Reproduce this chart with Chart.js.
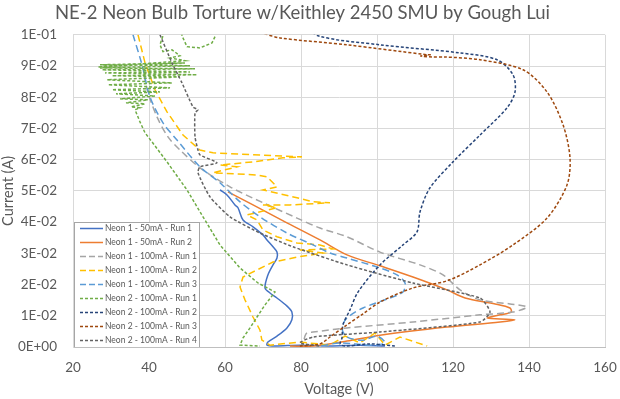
<!DOCTYPE html>
<html>
<head>
<meta charset="utf-8">
<title>NE-2 Neon Bulb Torture</title>
<script src="https://cdn.jsdelivr.net/npm/chart.js@4.4.1/dist/chart.umd.min.js"></script>
<style>
  html, body { margin: 0; padding: 0; background: #fff; }
  #wrap { width: 620px; height: 399px; }
</style>
</head>
<body>
<div id="wrap"><canvas id="chart" width="620" height="399"></canvas></div>
<script>
// series values: [voltage (V), current (A)]
const neon1_50mA_run1 = [
  [58.68, 0.0503], [60.53, 0.0487], [62.63, 0.0455], [63.42, 0.0446], [64.74, 0.0407],
  [67.37, 0.0385], [70.0, 0.0359], [71.05, 0.0343], [72.63, 0.0321], [73.68, 0.0304],
  [73.68, 0.0285], [72.63, 0.0263], [71.3, 0.0231], [70.53, 0.0189], [71.84, 0.0173],
  [73.68, 0.0157], [76.32, 0.0131], [77.6, 0.0112], [77.6, 0.0087], [76.3, 0.0061],
  [73.7, 0.0035], [71.3, 0.0016], [71.05, 0.0006], [73.2, 0.0003], [79.7, 0.0006],
  [87.6, 0.0003], [95.5, 0.0006], [102.1, 0.0003]
];
const neon1_50mA_run2 = [
  [60.79, 0.0497], [67.37, 0.0455], [75.8, 0.0401], [85.0, 0.0343], [92.11, 0.0295],
  [100.79, 0.0260], [109.47, 0.0224], [118.42, 0.0183], [123.2, 0.0157], [131.1, 0.0138],
  [135.0, 0.0125], [135.3, 0.0112], [132.4, 0.0103], [128.95, 0.0093], [132.4, 0.0090],
  [136.32, 0.0087], [132.4, 0.0080], [118.42, 0.0064], [100.79, 0.0038], [92.11, 0.0019],
  [83.16, 0.0003], [77.1, 0.0003]
];
const neon1_100mA_run1 = [
  [38.68, 0.0872], [39.74, 0.0814], [42.11, 0.0737], [45.0, 0.0673], [48.16, 0.0631],
  [53.42, 0.0574], [61.32, 0.0513], [70.0, 0.0462], [78.95, 0.0413], [85.0, 0.0381],
  [92.11, 0.0353], [100.79, 0.0304], [111.32, 0.0263], [117.37, 0.0231], [121.84, 0.0183],
  [127.11, 0.0151], [135.0, 0.0138], [139.47, 0.0128], [135.79, 0.0112], [127.11, 0.0103],
  [109.47, 0.0080], [92.11, 0.0061], [83.16, 0.0048], [81.58, 0.0045], [81.05, 0.0035],
  [80.5, 0.0006]
];
const neon1_100mA_run2 = [
  [37.11, 0.1000], [38.95, 0.0910], [41.58, 0.0824], [44.74, 0.0753], [48.95, 0.0679],
  [53.42, 0.0631], [56.84, 0.0622], [69.21, 0.0615], [80.26, 0.0609], [75.26, 0.0606],
  [67.37, 0.0593], [58.68, 0.0583], [63.16, 0.0577], [56.84, 0.0558], [68.42, 0.0551],
  [71.05, 0.0545], [73.68, 0.0513], [70.0, 0.0503], [78.95, 0.0478], [83.16, 0.0465],
  [87.63, 0.0462], [77.11, 0.0455], [70.0, 0.0455], [73.68, 0.0446], [65.79, 0.0423],
  [68.42, 0.0407], [70.0, 0.0375], [73.68, 0.0353], [78.95, 0.0333], [85.0, 0.0327],
  [88.4, 0.0314], [79.7, 0.0311], [85.79, 0.0301], [78.95, 0.0288], [72.63, 0.0272],
  [68.42, 0.0247], [64.74, 0.0224], [63.95, 0.0192], [65.26, 0.0151], [67.37, 0.0096],
  [69.21, 0.0054], [69.7, 0.0022], [71.84, 0.0006], [79.7, 0.0016], [87.6, 0.0006],
  [91.6, 0.0035], [95.5, 0.0013], [99.5, 0.0045], [102.1, 0.0006], [106.05, 0.0032],
  [113.2, 0.0003]
];
const neon1_100mA_run3 = [
  [35.79, 0.1000], [38.16, 0.0904], [40.26, 0.0801], [43.68, 0.0718], [47.37, 0.0663],
  [53.42, 0.0577], [58.68, 0.0526], [63.95, 0.0465], [69.21, 0.0417], [76.32, 0.0365],
  [83.16, 0.0327], [87.63, 0.0301], [92.11, 0.0285], [100.79, 0.0253], [105.26, 0.0231],
  [107.37, 0.0205], [106.84, 0.0176], [103.42, 0.0157], [96.32, 0.0125], [92.11, 0.0093],
  [90.79, 0.0061], [92.11, 0.0032], [96.32, 0.0022], [100.0, 0.0035], [102.1, 0.0013],
  [98.2, 0.0006], [90.3, 0.0013], [85.0, 0.0003]
];
const neon2_100mA_run1 = [
  [57.37, 0.0994], [56.58, 0.0974], [53.42, 0.0958], [50.0, 0.0962], [48.68, 0.0997],
  [48.68, 0.1054], [43.68, 0.1054], [43.68, 0.0997], [42.89, 0.0968], [43.68, 0.0946],
  [46.05, 0.0952], [48.16, 0.0933], [45.53, 0.0926], [49.47, 0.0917],
  [26.58, 0.0897], [49.47, 0.0910], [27.11, 0.0904], [50.79, 0.0901], [27.11, 0.0894],
  [52.11, 0.0891], [27.63, 0.0888], [50.79, 0.0881], [28.42, 0.0878], [52.63, 0.0872],
  [30.26, 0.0869], [48.16, 0.0865],
  [28.95, 0.0856], [46.05, 0.0846], [29.21, 0.0840], [45.53, 0.0830], [30.26, 0.0824],
  [42.89, 0.0817], [31.32, 0.0811], [41.58, 0.0804], [32.37, 0.0795], [39.74, 0.0792],
  [33.95, 0.0782], [38.95, 0.0779], [35.26, 0.0769], [37.63, 0.0766], [36.32, 0.0760],
  [37.63, 0.0721], [38.95, 0.0686], [40.79, 0.0657], [44.74, 0.0593], [50.0, 0.0503],
  [54.21, 0.0417], [58.68, 0.0327], [63.95, 0.0253], [68.68, 0.0205], [73.16, 0.0176],
  [70.53, 0.0135], [68.42, 0.0096], [66.58, 0.0061], [64.74, 0.0029], [63.95, 0.0006],
  [69.2, 0.0003]
];
const neon2_100mA_run2 = [
  [104.7, 0.0003], [98.2, 0.0010], [91.6, 0.0003], [90.3, 0.0010], [90.79, 0.0029],
  [91.05, 0.0071], [92.89, 0.0119], [95.0, 0.0176], [100.79, 0.0263], [106.84, 0.0327],
  [110.53, 0.0369], [111.32, 0.0433], [113.95, 0.0510], [120.0, 0.0593], [127.11, 0.0679],
  [134.21, 0.0766], [136.32, 0.0817], [135.79, 0.0872], [131.58, 0.0920], [121.84, 0.0942],
  [100.79, 0.0968], [84.47, 0.0997], [79.7, 0.1045]
];
const neon2_100mA_run3 = [
  [79.7, 0.0003], [85.0, 0.0010], [87.63, 0.0032], [92.11, 0.0071], [96.32, 0.0106],
  [100.79, 0.0144], [109.47, 0.0189], [118.42, 0.0212], [127.11, 0.0263], [135.79, 0.0327],
  [144.74, 0.0413], [150.0, 0.0519], [150.79, 0.0606], [148.95, 0.0712], [144.74, 0.0817],
  [138.42, 0.0888], [127.11, 0.0920], [117.89, 0.0929], [114.47, 0.0929], [111.5, 0.0932],
  [114.0, 0.0936], [113.16, 0.0936], [92.11, 0.0968], [74.47, 0.0990], [69.7, 0.1006]
];
const neon2_100mA_run4 = [
  [42.89, 0.1000], [46.05, 0.0910], [48.68, 0.0846], [51.58, 0.0769], [52.89, 0.0760],
  [52.11, 0.0750], [52.11, 0.0673], [52.89, 0.0631], [53.42, 0.0615], [57.89, 0.0590],
  [53.42, 0.0577], [52.89, 0.0558], [56.05, 0.0481], [61.32, 0.0417], [69.21, 0.0365],
  [77.89, 0.0321], [92.11, 0.0263], [109.47, 0.0205], [127.11, 0.0157], [129.74, 0.0112],
  [127.11, 0.0080], [100.79, 0.0048], [83.16, 0.0032], [79.7, 0.0013], [85.0, 0.0003]
];

const seriesNames = [
  'Neon 1 - 50mA - Run 1', 'Neon 1 - 50mA - Run 2',
  'Neon 1 - 100mA - Run 1', 'Neon 1 - 100mA - Run 2', 'Neon 1 - 100mA - Run 3',
  'Neon 2 - 100mA - Run 1', 'Neon 2 - 100mA - Run 2', 'Neon 2 - 100mA - Run 3',
  'Neon 2 - 100mA - Run 4'
];
const seriesData = [
  neon1_50mA_run1, neon1_50mA_run2, neon1_100mA_run1, neon1_100mA_run2, neon1_100mA_run3,
  neon2_100mA_run1, neon2_100mA_run2, neon2_100mA_run3, neon2_100mA_run4
];
const xTicks = { min: 20, max: 160, step: 20 };
const yTicks = { min: 0, max: 0.1, step: 0.01 };

const colors = ['#4472C4', '#ED7D31', '#A5A5A5', '#FFC000', '#5B9BD5',
                '#70AD47', '#264478', '#9E480E', '#636363'];
const dashes = [[], [], [7, 4], [7, 4], [7, 4], [3, 2], [3, 2], [3, 2], [3, 2]];
const legendDashes = [[], [], [6, 3], [6, 3], [6, 3], [3, 2], [3, 2], [3, 2], [3, 2]];
const tensions = [0.3, 0.3, 0.3, 0, 0.3, 0, 0.3, 0.3, 0.2];
const FONT = 'Lato, "Open Sans", sans-serif';
const GREY_TEXT = '#595959';

// Excel style "0E+00" labels
function sci(v) {
  if (Math.abs(v) < 1e-12) return '0E+00';
  const parts = v.toExponential(0).split('e');
  const n = parseInt(parts[1], 10);
  return parts[0] + 'E' + (n < 0 ? '-' : '+') + String(Math.abs(n)).padStart(2, '0');
}

// legend box sitting inside the plot area, bottom left
const insideLegend = {
  id: 'insideLegend',
  afterDatasetsDraw(chart) {
    const ctx = chart.ctx;
    const area = chart.chartArea;
    ctx.save();
    ctx.beginPath();
    ctx.rect(area.left, area.top, area.right - area.left, area.bottom - area.top);
    ctx.clip();
    const x0 = area.left + 1, y0 = area.bottom - 125, w = 125, h = 126;
    ctx.fillStyle = '#fff';
    ctx.fillRect(x0, y0, w, h);
    ctx.strokeStyle = '#A6A6A6';
    ctx.lineWidth = 1;
    ctx.strokeRect(x0 + 0.5, y0 + 0.5, w, h);
    // shrink the text so the longest label fits like the original
    ctx.font = '10px ' + FONT;
    const wide = ctx.measureText('Neon 1 - 100mA - Run 1').width;
    const size = Math.min(10.5, 10 * 92 / wide);
    ctx.font = size.toFixed(2) + 'px ' + FONT;
    ctx.textBaseline = 'middle';
    chart.data.datasets.forEach((ds, i) => {
      const y = Math.round(y0 + 6 + i * 14) + 0.5;
      ctx.setLineDash(legendDashes[i]);
      ctx.strokeStyle = ds.borderColor;
      ctx.lineWidth = 1.5;
      ctx.beginPath();
      ctx.moveTo(x0 + 6, y);
      ctx.lineTo(x0 + 29, y);
      ctx.stroke();
      ctx.setLineDash([]);
      ctx.fillStyle = GREY_TEXT;
      ctx.fillText(ds.label, x0 + 31, y);
    });
    ctx.restore();
  }
};

const datasets = seriesData.map((pts, i) => ({
  label: seriesNames[i],
  data: pts.map(p => ({ x: p[0], y: p[1] })),
  showLine: true,
  borderColor: colors[i],
  backgroundColor: colors[i],
  borderWidth: 1.5,
  borderDash: dashes[i],
  pointRadius: 0,
  tension: tensions[i],
  order: seriesData.length - i
}));

new Chart(document.getElementById('chart').getContext('2d'), {
  type: 'scatter',
  data: { datasets: datasets },
  plugins: [insideLegend],
  options: {
    responsive: false,
    animation: false,
    devicePixelRatio: 1,
    layout: { padding: { left: 0, right: 15, top: 0, bottom: 0 } },
    plugins: {
      legend: { display: false },
      tooltip: { enabled: false },
      title: {
        display: true,
        text: 'NE-2 Neon Bulb Torture w/Keithley 2450 SMU by Gough Lui',
        color: GREY_TEXT,
        font: { family: FONT, size: 18.5, weight: 'normal' },
        padding: { top: 2, bottom: 10.6 }
      }
    },
    scales: {
      x: {
        type: 'linear',
        min: xTicks.min,
        max: xTicks.max,
        afterFit: s => { s.height = 52; s.paddingLeft = 0; s.paddingRight = 0; },
        ticks: { stepSize: xTicks.step, color: GREY_TEXT, font: { family: FONT, size: 13.5 }, padding: 13 },
        grid: { color: '#D9D9D9', drawTicks: false },
        border: { color: '#BFBFBF' },
        title: { display: true, text: 'Voltage (V)', color: GREY_TEXT,
                 font: { family: FONT, size: 14.5 }, padding: { top: 0, bottom: 1 } }
      },
      y: {
        type: 'linear',
        min: yTicks.min,
        max: yTicks.max,
        afterFit: s => { s.width = 73; s.paddingTop = 0; s.paddingBottom = 0; },
        ticks: { stepSize: yTicks.step, color: GREY_TEXT, font: { family: FONT, size: 13.5 },
                 padding: 16, callback: v => sci(v) },
        grid: { color: '#D9D9D9', drawTicks: false },
        border: { color: '#D9D9D9' },
        title: { display: true, text: 'Current (A)', color: GREY_TEXT,
                 font: { family: FONT, size: 14.5 }, padding: { top: 0, bottom: 0 } }
      }
    }
  }
});
</script>
</body>
</html>
